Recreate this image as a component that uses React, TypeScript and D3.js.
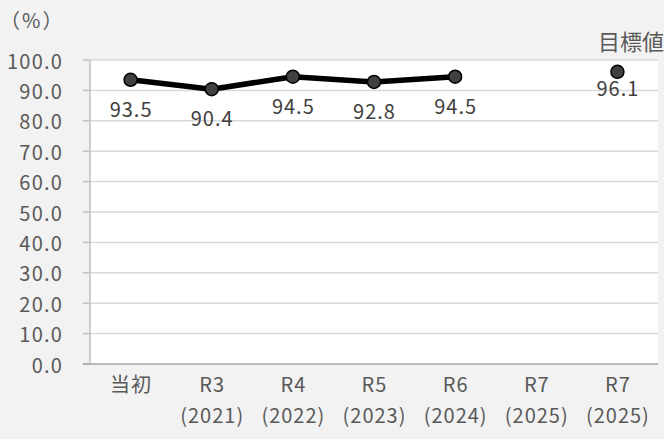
import React from "react";
import * as d3 from "d3";

const categories = ["当初", "R3", "R4", "R5", "R6", "R7", "R7"];
const yearLabels = ["", "(2021)", "(2022)", "(2023)", "(2024)", "(2025)", "(2025)"];
const actualValues: (number | null)[] = [93.5, 90.4, 94.5, 92.8, 94.5, null, null];
const targetValues: (number | null)[] = [null, null, null, null, null, null, 96.1];
const yTicks = [0, 10, 20, 30, 40, 50, 60, 70, 80, 90, 100];
const unitLabel = "（%）";
const targetLabel = "目標値";

const W = 664;
const H = 439;
const left = 90;
const right = 658;
const top = 60;
const bottom = 364;
const FONT = "'Noto Sans CJK JP', 'Noto Sans', sans-serif";
const TXT = "#595959";

export default function App() {
  const x = d3.scaleBand<number>().domain(categories.map((_, i) => i)).range([left, right]);
  const y = d3.scaleLinear().domain([0, 100]).range([bottom, top]);
  const cx = (i: number) => (x(i) as number) + x.bandwidth() / 2;

  const pts = actualValues
    .map((v, i) => ({ v, i }))
    .filter((d) => d.v !== null) as { v: number; i: number }[];
  const tpts = targetValues
    .map((v, i) => ({ v, i }))
    .filter((d) => d.v !== null) as { v: number; i: number }[];

  const line = d3
    .line<{ v: number; i: number }>()
    .x((d) => cx(d.i))
    .y((d) => y(d.v));

  return (
    <div style={{ position: "fixed", left: 0, top: 0 }}>
      <svg width={W} height={H} style={{ display: "block", fontFamily: FONT }}>
        <rect x={0} y={0} width={W} height={H} fill="#f2f2f2" />
        <rect x={left} y={top} width={right - left} height={bottom - top} fill="#ffffff" />
        {yTicks.map((t) => (
          <g key={t}>
            {t > 0 && (
              <line x1={left} x2={right} y1={y(t)} y2={y(t)} stroke="#d9d9d9" strokeWidth={1.5} />
            )}
            <line x1={left - 7} x2={left} y1={y(t)} y2={y(t)} stroke="#bfbfbf" strokeWidth={1.5} />
            <text
              x={63}
              y={y(t)}
              textAnchor="end"
              dominantBaseline="central"
              fontSize={20}
              letterSpacing={1.2}
              fill={TXT}
            >
              {t.toFixed(1)}
            </text>
          </g>
        ))}
        <line x1={left} x2={left} y1={top} y2={bottom} stroke="#bfbfbf" strokeWidth={1.5} />
        <line x1={left - 7} x2={right} y1={bottom} y2={bottom} stroke="#a6a6a6" strokeWidth={1.5} />
        {categories.map((c, i) => (
          <g key={i}>
            <text x={cx(i) + 0.5} y={383} textAnchor="middle" dominantBaseline="central" fontSize={20} letterSpacing={1} fill={TXT}>
              {c}
            </text>
            {yearLabels[i] && (
              <text x={cx(i) + 0.5} y={414} textAnchor="middle" dominantBaseline="central" fontSize={20} letterSpacing={1} fill={TXT}>
                {yearLabels[i]}
              </text>
            )}
          </g>
        ))}
        <path d={line(pts) || ""} fill="none" stroke="#000000" strokeWidth={5.5} strokeLinejoin="round" />
        {pts.map((d) => (
          <circle key={d.i} cx={cx(d.i)} cy={y(d.v)} r={6.5} fill="#404040" stroke="#000000" strokeWidth={1.5} />
        ))}
        {tpts.map((d) => (
          <circle key={"t" + d.i} cx={cx(d.i)} cy={y(d.v)} r={6.5} fill="#404040" stroke="#000000" strokeWidth={1.5} />
        ))}
        {pts.map((d) => (
          <text
            key={"l" + d.i}
            x={cx(d.i) + 0.5}
            y={y(d.v) + 37}
            textAnchor="middle"
            fontSize={20}
            letterSpacing={1}
            fill="#404040"
          >
            {d.v.toFixed(1)}
          </text>
        ))}
        {tpts.map((d) => (
          <text
            key={"tl" + d.i}
            x={cx(d.i) + 0.5}
            y={y(d.v) + 24}
            textAnchor="middle"
            fontSize={20}
            letterSpacing={1}
            fill="#404040"
          >
            {d.v.toFixed(1)}
          </text>
        ))}
        <text x={0} y={19} dominantBaseline="central" fontSize={20} letterSpacing={2} fill={TXT}>
          {unitLabel}
        </text>
        <text x={664} y={40} textAnchor="end" dominantBaseline="central" fontSize={22} fill={TXT}>
          {targetLabel}
        </text>
      </svg>
    </div>
  );
}
